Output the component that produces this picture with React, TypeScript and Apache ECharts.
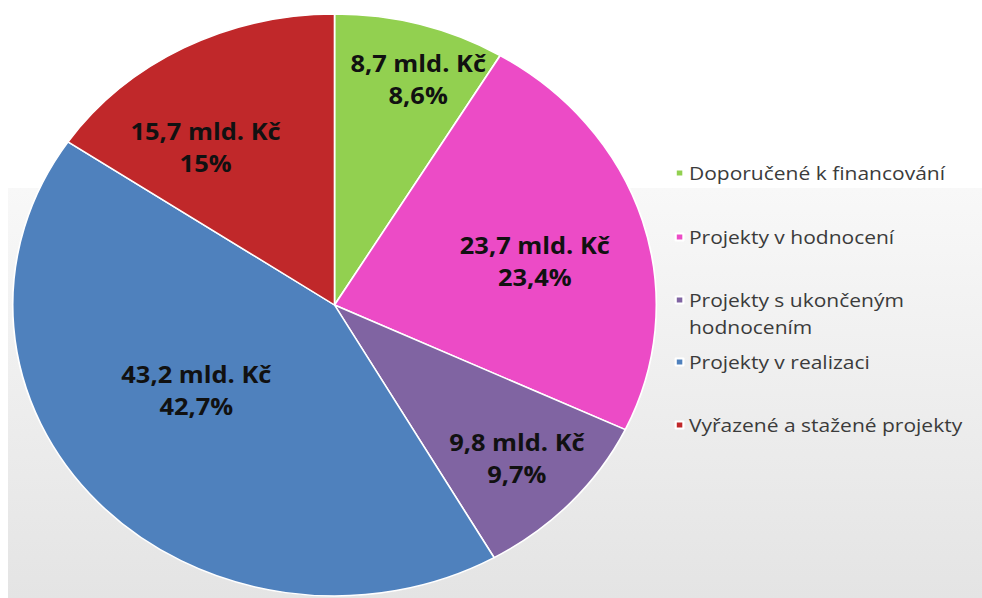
import React, { useEffect, useRef } from 'react';
import * as echarts from 'echarts';

// ---- data ----
const categories = [
  'Doporučené k financování',
  'Projekty v hodnocení',
  'Projekty s ukončeným hodnocením',
  'Projekty v realizaci',
  'Vyřazené a stažené projekty',
];
const amounts = [8.7, 23.7, 9.8, 43.2, 15.7]; // mld. Kč
const shareLabels = ['8,6%', '23,4%', '9,7%', '42,7%', '15%'];
const legendLabels = [
  'Doporučené k financování',
  'Projekty v hodnocení',
  '\nProjekty s ukončeným\nhodnocením',
  'Projekty v realizaci',
  'Vyřazené a stažené projekty',
];

// ---- styles ----
const colors = ['#92D050', '#EC4BC6', '#8064A2', '#4F81BD', '#C0282A'];
const labelShift = [
  [36, -83],
  [39, -1],
  [56, 52],
  [-16, -16],
  [-47, -27],
];
const legendCenters = [173, 237, 300, 362, 425];
const SX = 982 / 888;

const fmt = (v: number) => v.toFixed(1).replace('.', ',');

export default function App() {
  const ref = useRef<HTMLDivElement>(null);

  useEffect(() => {
    if (!ref.current) return;
    const chart = echarts.init(ref.current, undefined, { renderer: 'svg' });
    const legends = categories.map((name, i) => ({
      data: [name],
      left: 610,
      top: legendCenters[i] - 13.5 - (i === 2 ? 27 : 0),
      orient: 'vertical',
      padding: 0,
      icon: 'rect',
      itemWidth: 7,
      itemHeight: 7,
      selectedMode: false,
      formatter: () => legendLabels[i],
      textStyle: {
        fontSize: 19,
        fontFamily: 'Open Sans',
        color: '#3b3b3b',
        lineHeight: 27,
      },
    }));
    chart.setOption({
      animation: false,
      backgroundColor: 'transparent',
      color: colors,
      legend: legends,
      series: [
        {
          type: 'pie',
          center: [302.5, 305],
          radius: 291,
          startAngle: 90,
          clockwise: true,
          silent: true,
          itemStyle: { borderColor: '#ffffff', borderWidth: 1.5 },
          label: {
            show: true,
            position: 'inside',
            formatter: (p: any) => `${fmt(amounts[p.dataIndex])} mld. Kč\n${shareLabels[p.dataIndex]}`,
            fontSize: 23,
            fontWeight: 'bold',
            fontFamily: 'Open Sans',
            color: '#111111',
            lineHeight: 32,
            align: 'center',
          },
          labelLayout: (params: any) => ({
            dx: labelShift[params.dataIndex][0],
            dy: labelShift[params.dataIndex][1],
          }),
          labelLine: { show: false },
          emphasis: { disabled: true },
          data: categories.map((name, i) => ({ name, value: amounts[i] })),
        },
      ],
    });
    return () => chart.dispose();
  }, []);

  return (
    <div
      style={{
        position: 'absolute',
        left: 0,
        top: 0,
        width: 982,
        height: 598,
        background: '#ffffff',
        overflow: 'hidden',
      }}
    >
      <div
        style={{
          position: 'absolute',
          left: 8,
          top: 188,
          width: 974,
          height: 410,
          background: 'linear-gradient(#f8f8f8, #e4e4e4)',
        }}
      />
      <div
        ref={ref}
        style={{
          position: 'absolute',
          left: 0,
          top: 0,
          width: 888,
          height: 598,
          transform: `scaleX(${SX})`,
          transformOrigin: '0 0',
        }}
      />
    </div>
  );
}
